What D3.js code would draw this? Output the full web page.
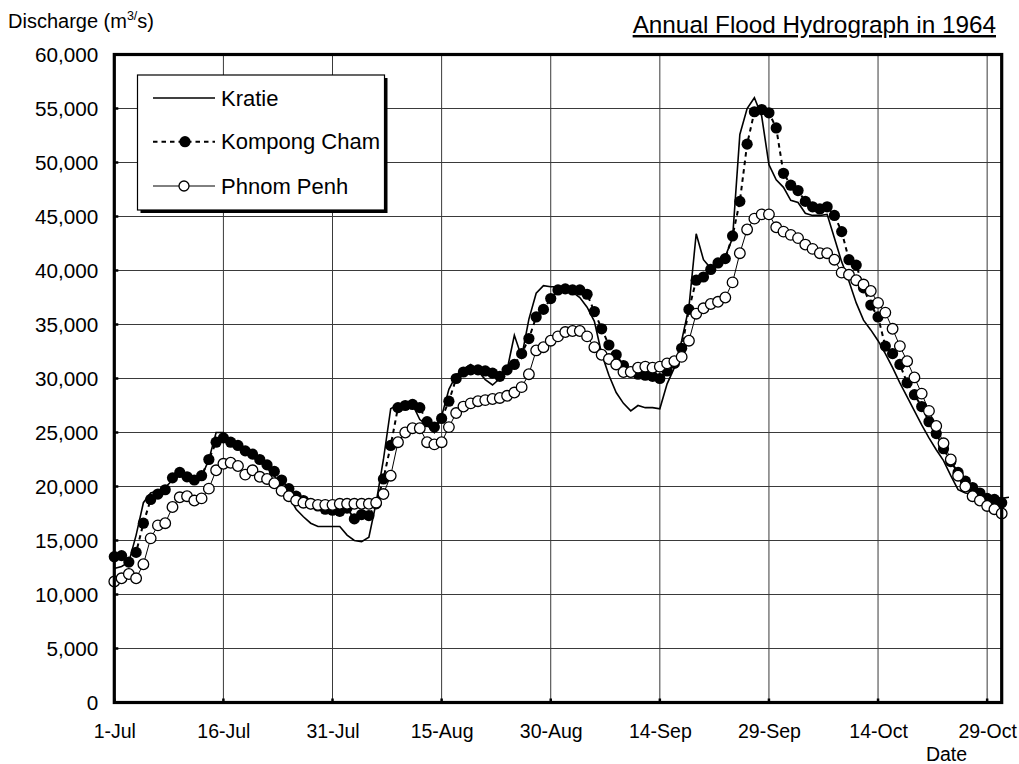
<!DOCTYPE html>
<html>
<head>
<meta charset="utf-8">
<script src="https://cdn.jsdelivr.net/npm/d3@7"></script>
<style>
  html, body { margin: 0; padding: 0; background: #fff; }
  svg { display: block; font-family: "Liberation Sans", Arial, sans-serif; }
</style>
</head>
<body>
<svg id="chart" width="1019" height="764"></svg>
<script>
// Daily discharge (m3/s) from 1 July 1964; Kratie runs one day longer (to 1 November)
const startDate = "1964-07-01";
const endDate = "1964-10-31";

const kratie = [
  12400, 12600, 13000, 15500, 18500, 19400, 19600, 19900, 20600, 21100,
  21200, 20700, 20900, 22500, 25000, 25000, 24200, 23700, 23200, 22800,
  22300, 21700, 21000, 20000, 19100, 17900, 17200, 16600, 16300, 16300,
  16300, 16300, 15500, 15000, 14900, 15300, 18500, 22500, 27200, 27600,
  27400, 27600, 26200, 25700, 25000, 26500, 29000, 30300, 30900, 31300,
  30700, 29900, 29400, 30000, 30800, 34000, 32000, 35500, 37900, 38600,
  38500, 38500, 38300, 38000, 37500, 36600, 35300, 32300, 30300, 28700,
  27700, 27000, 27500, 27300, 27300, 27200, 29500, 31000, 33500, 36600,
  43400, 41000, 40200, 40800, 41300, 43000, 52600, 55000, 56000, 54300,
  49800, 48400, 47700, 46500, 46300, 45300, 45100, 45100, 45200, 43000,
  40800, 39000, 37000, 35400, 34500, 33500, 32300, 31000, 29600, 28300,
  27000, 25700, 24500, 23400, 22400, 21000, 19700, 19400, 19300, 19200,
  19100, 19000, 18900, 19000
];

const kompongCham = [
  13500, 13600, 13000, 13900, 16600, 18800, 19300, 19700, 20800, 21300,
  20900, 20600, 21000, 22500, 24100, 24500, 24100, 23800, 23300, 23000,
  22500, 22000, 21400, 20600, 19800, 19100, 18700, 18400, 18200, 17900,
  17800, 17700, 18000, 17000, 17400, 17300, 18400, 20700, 23800, 27300,
  27500, 27600, 27300, 26000, 25500, 26300, 27900, 30000, 30600, 30800,
  30800, 30700, 30500, 30200, 30800, 31300, 32300, 33700, 35700, 36400,
  37400, 38200, 38300, 38200, 38200, 37800, 36200, 34600, 33100, 32200,
  31200, 30600, 30400, 30300, 30200, 30000, 30700, 31400, 32800, 36400,
  39100, 39400, 40100, 40700, 41100, 43200, 46400, 51700, 54700, 54900,
  54600, 53200, 49000, 47900, 47400, 46400, 45900, 45700, 45900, 45100,
  43600, 41000, 40500, 38400, 36800, 35700, 33000, 32300, 31300, 29600,
  28500, 27400, 26000, 24900, 23500, 22300, 21300, 20500, 19900, 19400,
  18900, 18800, 18500
];

const phnomPenh = [
  11200, 11500, 11900, 11500, 12800, 15200, 16400, 16600, 18100, 19000,
  19100, 18700, 18900, 19800, 21500, 22100, 22200, 21900, 21100, 21500,
  20900, 20700, 20300, 19600, 19100, 18700, 18500, 18400, 18300, 18300,
  18300, 18400, 18400, 18400, 18400, 18400, 18500, 19300, 21000, 24100,
  25000, 25400, 25400, 24100, 23900, 24100, 25500, 26800, 27400, 27700,
  27900, 28000, 28100, 28200, 28400, 28700, 29200, 30400, 32600, 32900,
  33500, 33900, 34300, 34400, 34400, 33900, 32900, 32200, 31800, 31300,
  30600, 30600, 31000, 31100, 31000, 31100, 31400, 31600, 32000, 33500,
  36000, 36500, 36900, 37100, 37500, 38900, 41600, 43800, 44800, 45200,
  45200, 44000, 43600, 43300, 43000, 42400, 42000, 41600, 41600, 41000,
  39800, 39600, 39100, 38700, 38100, 37000, 36100, 34600, 33000, 31600,
  30100, 28600, 27000, 25600, 24000, 22500, 21000, 20000, 19100, 18700,
  18200, 17900, 17500
];

const tickDates = ["1964-07-01", "1964-07-16", "1964-07-31", "1964-08-15", "1964-08-30",
                   "1964-09-14", "1964-09-29", "1964-10-14", "1964-10-29"];
const yTicks = [0, 5000, 10000, 15000, 20000, 25000, 30000, 35000, 40000, 45000, 50000, 55000, 60000];
const seriesNames = ["Kratie", "Kompong Cham", "Phnom Penh"];

const parse = d3.utcParse("%Y-%m-%d");
const day0 = parse(startDate);
const dateAt = i => d3.utcDay.offset(day0, i);

const svg = d3.select("#chart");
const plot = { left: 114.3, right: 1001.7, top: 54.5, bottom: 702.5 };

const x = d3.scaleUtc().domain([day0, parse(endDate)]).range([plot.left, plot.right]);
const y = d3.scaleLinear().domain([0, 60000]).range([plot.bottom, plot.top]);

// grid
const grid = svg.append("g");
grid.selectAll("line.h").data(yTicks).join("line")
  .attr("x1", plot.left).attr("x2", plot.right)
  .attr("y1", d => y(d)).attr("y2", d => y(d))
  .attr("stroke", "#3a3a3a").attr("stroke-width", 1);
grid.selectAll("line.v").data(tickDates.map(parse)).join("line")
  .attr("x1", d => x(d)).attr("x2", d => x(d))
  .attr("y1", plot.top).attr("y2", plot.bottom)
  .attr("stroke", "#3a3a3a").attr("stroke-width", 1);

// axes
const xAxis = d3.axisBottom(x).tickValues(tickDates.map(parse))
  .tickFormat(d3.utcFormat("%-d-%b")).tickSize(0).tickPadding(22);
const yAxis = d3.axisLeft(y).tickValues(yTicks)
  .tickFormat(d3.format(",")).tickSize(0).tickPadding(16);

const gx = svg.append("g").attr("transform", `translate(0,${plot.bottom})`).call(xAxis);
gx.select(".domain").remove();
gx.selectAll("text").attr("font-size", 19.5).attr("fill", "#000")
  .attr("font-family", "Liberation Sans, Arial, sans-serif");

const gy = svg.append("g").attr("transform", `translate(${plot.left},0)`).call(yAxis);
gy.select(".domain").remove();
gy.selectAll("text").attr("font-size", 20.7).attr("fill", "#000")
  .attr("font-family", "Liberation Sans, Arial, sans-serif");

// inward tick nubs
svg.append("g").selectAll("line").data(tickDates.map(parse)).join("line")
  .attr("x1", d => x(d)).attr("x2", d => x(d))
  .attr("y1", plot.bottom).attr("y2", plot.bottom - 4)
  .attr("stroke", "#000").attr("stroke-width", 2.5);
svg.append("g").selectAll("line").data(yTicks).join("line")
  .attr("x1", plot.left).attr("x2", plot.left + 4)
  .attr("y1", d => y(d)).attr("y2", d => y(d))
  .attr("stroke", "#000").attr("stroke-width", 2.5);

// series
const pts = arr => arr.map((v, i) => ({ date: dateAt(i), value: v }));
const line = d3.line().x(d => x(d.date)).y(d => y(d.value));

const kData = pts(kratie), cData = pts(kompongCham), pData = pts(phnomPenh);

svg.append("path").datum(kData).attr("d", line)
  .attr("fill", "none").attr("stroke", "#000").attr("stroke-width", 1.6);

svg.append("path").datum(cData).attr("d", line)
  .attr("fill", "none").attr("stroke", "#000").attr("stroke-width", 2)
  .attr("stroke-dasharray", "4.5,4");
svg.append("g").selectAll("circle").data(cData).join("circle")
  .attr("cx", d => x(d.date)).attr("cy", d => y(d.value)).attr("r", 5.6)
  .attr("fill", "#000");

svg.append("path").datum(pData).attr("d", line)
  .attr("fill", "none").attr("stroke", "#000").attr("stroke-width", 1);
svg.append("g").selectAll("circle").data(pData).join("circle")
  .attr("cx", d => x(d.date)).attr("cy", d => y(d.value)).attr("r", 5.3)
  .attr("fill", "#fff").attr("stroke", "#000").attr("stroke-width", 1.3);

// plot frame
svg.append("rect")
  .attr("x", plot.left).attr("y", plot.top)
  .attr("width", plot.right - plot.left).attr("height", plot.bottom - plot.top)
  .attr("fill", "none").attr("stroke", "#000").attr("stroke-width", 3.2);

// legend
const lg = svg.append("g");
const box = { x: 137.5, y: 75, w: 247, h: 135 };
lg.append("rect").attr("x", box.x + 3).attr("y", box.y + 3).attr("width", box.w).attr("height", box.h).attr("fill", "#000");
lg.append("rect").attr("x", box.x).attr("y", box.y).attr("width", box.w).attr("height", box.h)
  .attr("fill", "#fff").attr("stroke", "#000").attr("stroke-width", 1.2);

const rows = [98, 141.7, 186];
lg.append("line").attr("x1", 153).attr("x2", 215).attr("y1", rows[0]).attr("y2", rows[0])
  .attr("stroke", "#000").attr("stroke-width", 1.6);
lg.append("line").attr("x1", 153).attr("x2", 215).attr("y1", rows[1]).attr("y2", rows[1])
  .attr("stroke", "#000").attr("stroke-width", 2).attr("stroke-dasharray", "4.5,4");
lg.append("circle").attr("cx", 185).attr("cy", rows[1]).attr("r", 5.6).attr("fill", "#000");
lg.append("line").attr("x1", 153).attr("x2", 215).attr("y1", rows[2]).attr("y2", rows[2])
  .attr("stroke", "#000").attr("stroke-width", 1);
lg.append("circle").attr("cx", 184).attr("cy", rows[2]).attr("r", 5)
  .attr("fill", "#fff").attr("stroke", "#000").attr("stroke-width", 1.3);
lg.selectAll("text").data(seriesNames).join("text")
  .attr("x", 221).attr("y", (d, i) => rows[i] + 7.5)
  .attr("font-size", 22).attr("fill", "#000").text(d => d);

// titles
const yTitle = svg.append("text").attr("x", 8).attr("y", 28).attr("font-size", 20).attr("fill", "#000");
yTitle.append("tspan").text("Discharge (m");
yTitle.append("tspan").attr("font-size", 12.5).attr("dy", -8).text("3/");
yTitle.append("tspan").attr("dy", 8).text("s)");

svg.append("text").attr("x", 996).attr("y", 33).attr("text-anchor", "end")
  .attr("font-size", 24.3).attr("fill", "#000").attr("text-decoration", "underline")
  .text("Annual Flood Hydrograph in 1964");

svg.append("text").attr("x", 946.5).attr("y", 761).attr("text-anchor", "middle")
  .attr("font-size", 19.5).attr("fill", "#000").text("Date");
</script>
</body>
</html>
